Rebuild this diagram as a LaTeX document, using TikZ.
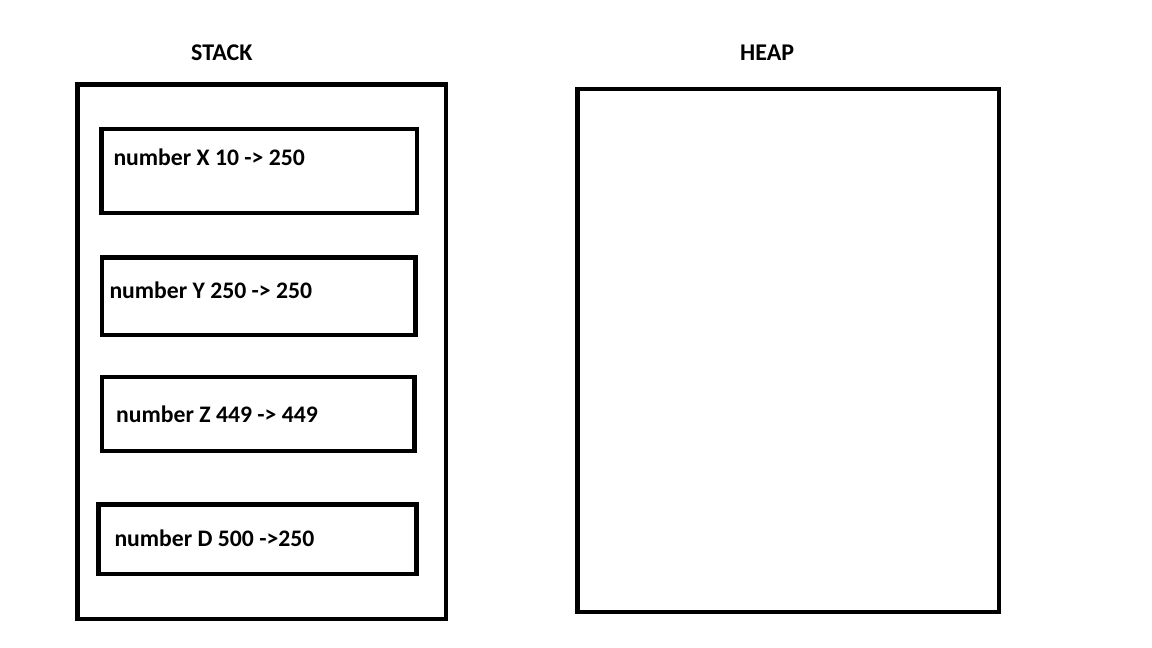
\documentclass[tikz,border=0pt]{standalone}
\usepackage{fontspec}
\setmainfont{Carlito}
\begin{document}
\begin{tikzpicture}[x=1pt,y=-1pt,
  box/.style={draw=black, line width=4.6pt, rectangle, inner sep=0pt},
  lbl/.style={anchor=base west, inner sep=0pt, font=\fontsize{23.7}{28}\selectfont\bfseries},
  title/.style={anchor=base west, inner sep=0pt, font=\fontsize{24}{28}\selectfont\bfseries}]
\useasboundingbox (0,0) rectangle (1152,648);
\node[box, minimum width=368.5pt, minimum height=534.5pt] (stack) at (261.75,351.75) {};
\node[box, minimum width=421.5pt, minimum height=523pt] (heap) at (788.25,350.5) {};
\node[box, minimum width=315.5pt, minimum height=84pt] (s1) at (259.25,171) {};
\node[box, minimum width=313.5pt, minimum height=77.5pt] (s2) at (258.75,296.25) {};
\node[box, minimum width=312.5pt, minimum height=74pt] (s3) at (258.25,414) {};
\node[box, minimum width=318pt, minimum height=69.5pt] (s4) at (257.3,539.25) {};
\node[lbl] (t1) at (113.3,165) {number X 10 -> 250};
\node[lbl] (t2) at (109.3,298.3) {number Y 250 -> 250};
\node[lbl] (t3) at (116,422.7) {number Z 449 -> 449};
\node[lbl] (t4) at (114.3,546.7) {number D 500 ->250};
\node[title] (stk) at (191,60) {STACK};
\node[title] (hp) at (740,60) {HEAP};
\end{tikzpicture}
\end{document}
